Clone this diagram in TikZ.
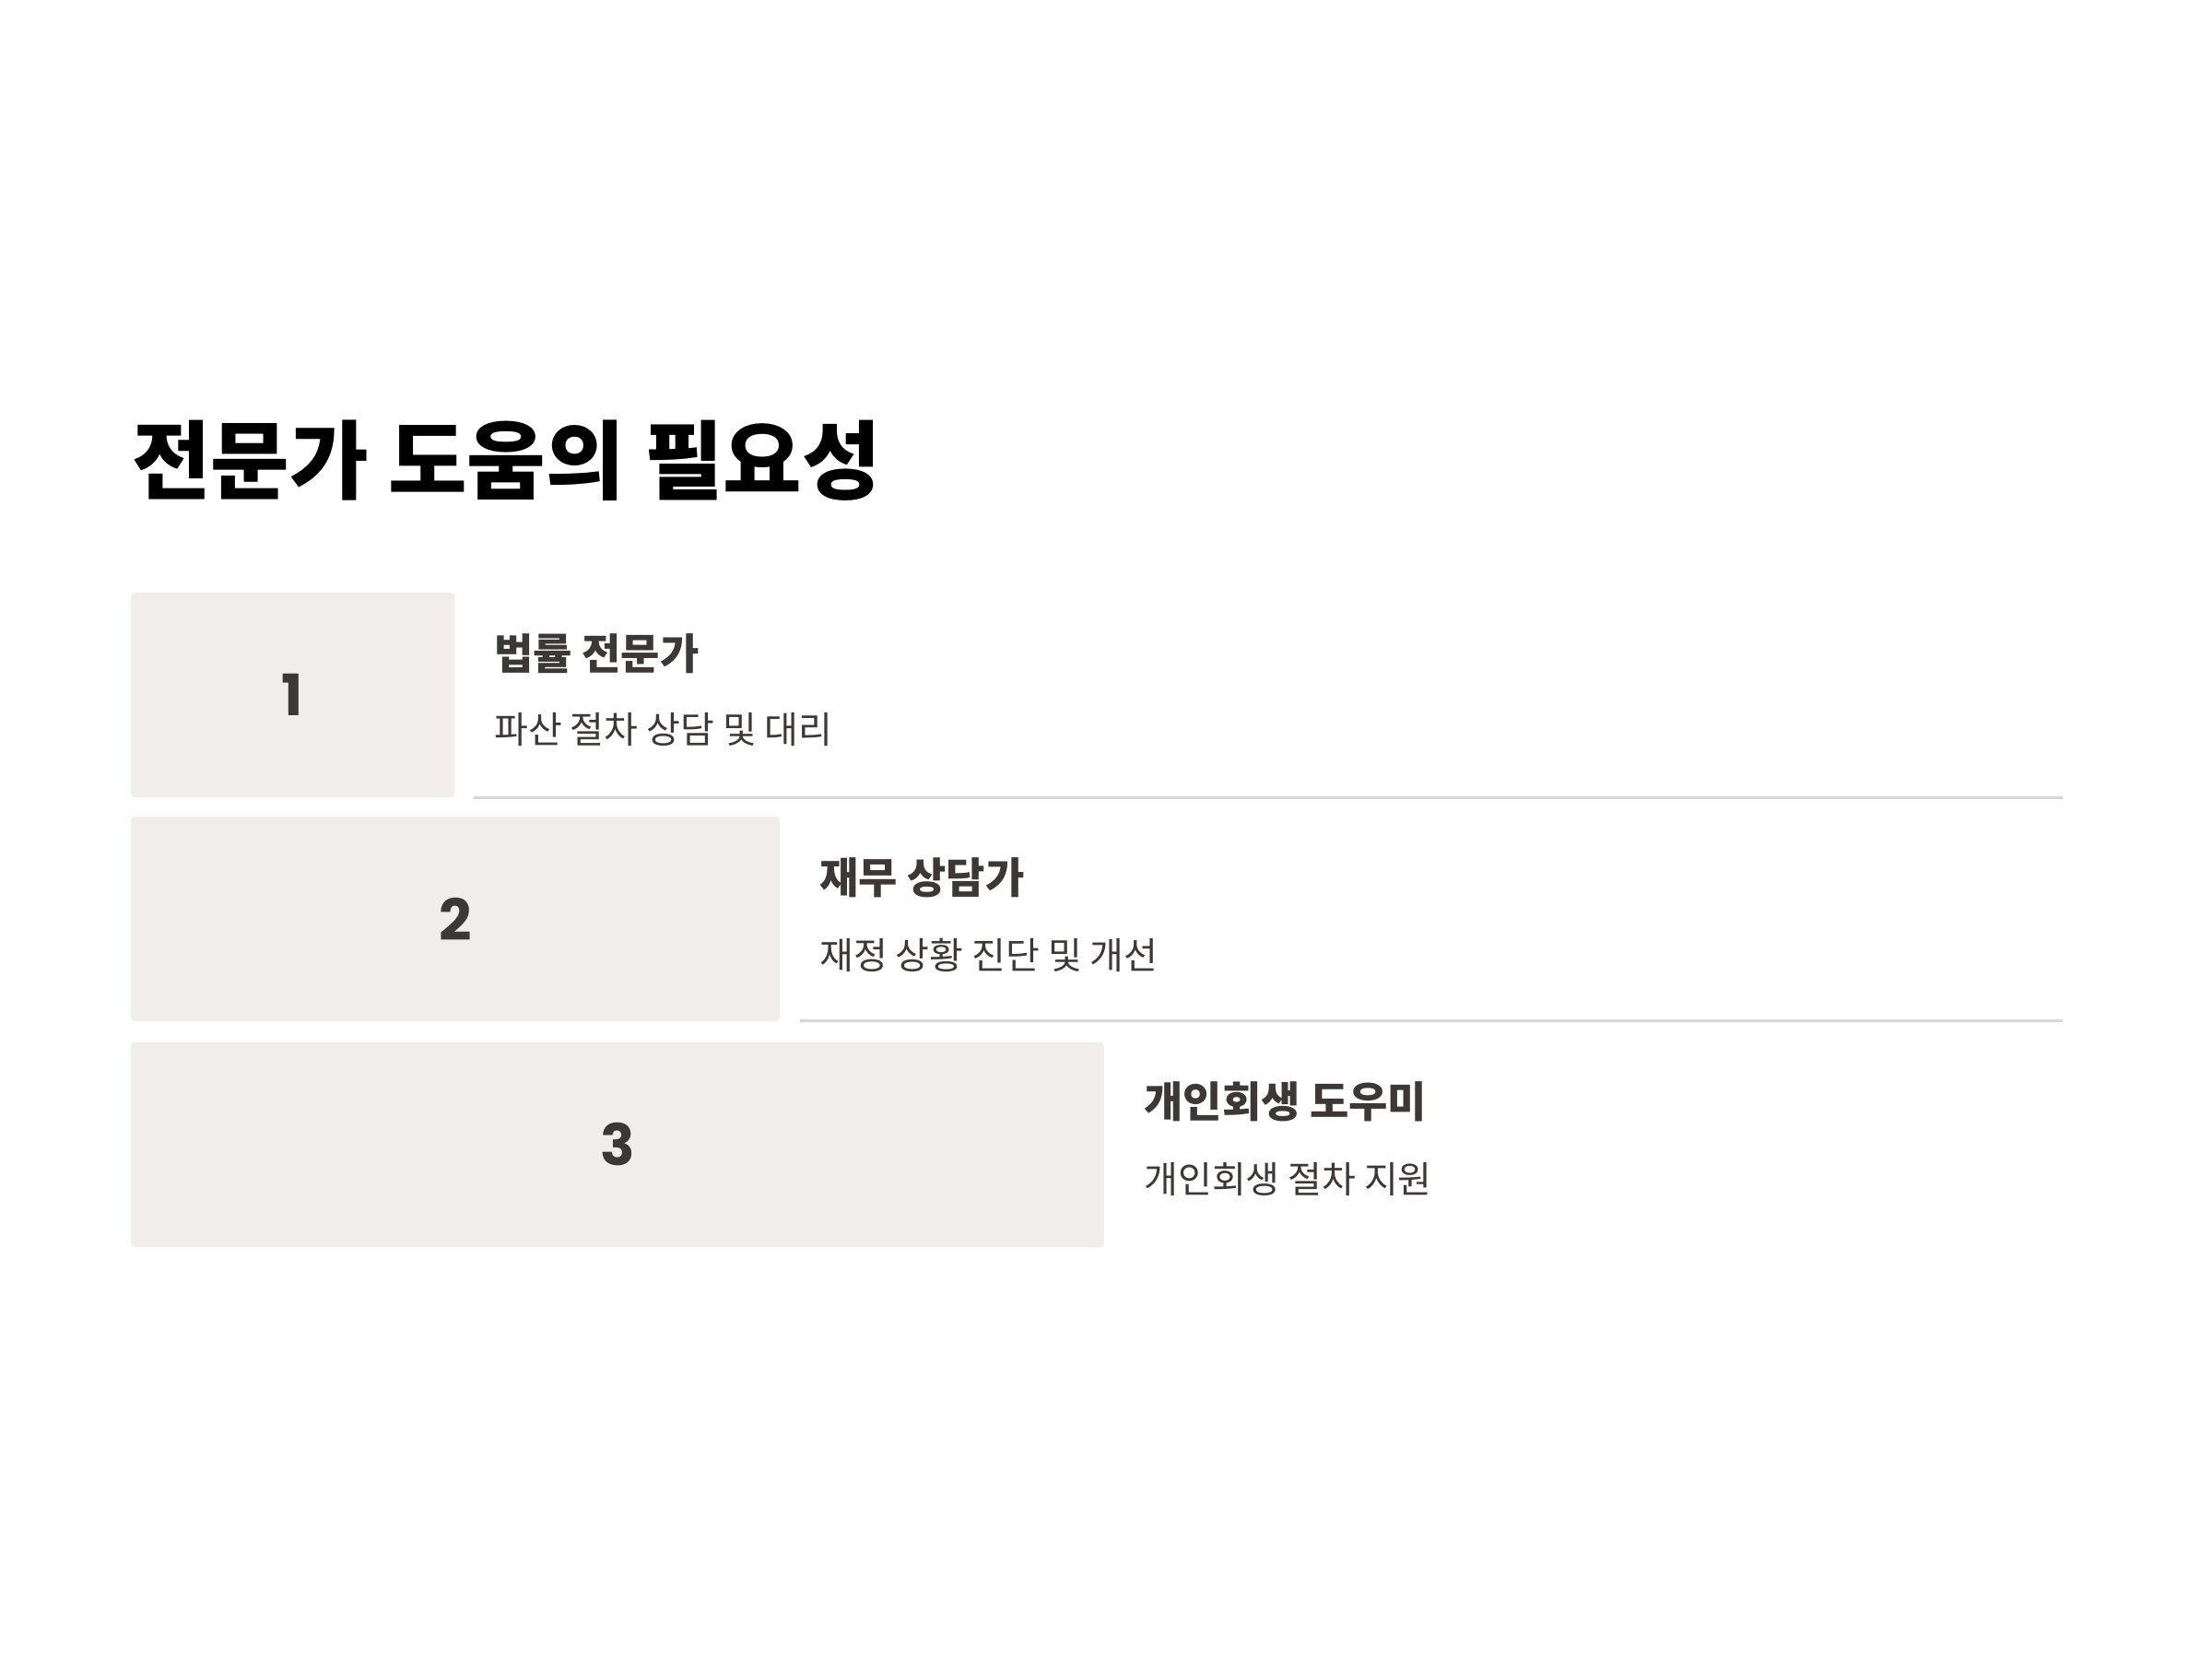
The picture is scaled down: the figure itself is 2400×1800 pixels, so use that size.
\documentclass[tikz,border=0pt]{standalone}
\usepackage{fontspec}
\newfontfamily\kr{Noto Sans CJK KR}
\newfontfamily\numfont{Poppins}
\definecolor{boxfill}{HTML}{F0EDEC}
\definecolor{txt}{HTML}{3D3838}
\definecolor{rule}{HTML}{D9D6D6}
\tikzset{
  stepbox/.style={fill=boxfill, draw=none, rounded corners=2pt},
  numlabel/.style={text=txt, font=\numfont\bfseries\fontsize{31}{31}\selectfont, inner sep=0pt},
  head/.style={anchor=west, text=txt, font=\kr\bfseries\fontsize{23}{23}\selectfont, inner sep=0pt},
  sub/.style={anchor=west, text=txt, font=\kr\fontsize{20}{20}\selectfont, inner sep=0pt},
  sep/.style={draw=rule, line width=1.5pt}
}
\begin{document}
\begin{tikzpicture}[x=0.5pt,y=-0.5pt]
\path[fill=white, use as bounding box] (0,0) rectangle (2400,1800);
\node[anchor=west, inner sep=0pt, font=\kr\bfseries\fontsize{46.5}{46.5}\selectfont, text=black] (title) at (143,500) {전문가 도움의 필요성};

% boxes
\path[stepbox] (142,643) rectangle (493,865);
\coordinate (b1) at (317.5,754);
\node[numlabel] (n1) at (b1) {1};
\path[stepbox] (142,886) rectangle (846,1108);
\coordinate (b2) at (494,997);
\node[numlabel] (n2) at (b2) {2};
\path[stepbox] (142,1131) rectangle (1198,1353);
\coordinate (b3) at (670,1242);
\node[numlabel] (n3) at (b3) {3};

% texts
\node[head] (h1) at (536,709) {법률 전문가};
\node[sub] (s1) at (536,792) {파산 절차 상담 및 대리};
\node[head] (h2) at (889,952) {재무 상담가};
\node[sub] (s2) at (889,1036) {재정 상황 진단 및 개선};
\node[head] (h3) at (1241,1195) {개인회생 도우미};
\node[sub] (s3) at (1241,1280) {개인회생 절차 지원};

% rules
\coordinate (l1a) at (514,865);
\coordinate (l1b) at (2238,865);
\coordinate (l2a) at (868,1107);
\coordinate (l2b) at (2238,1107);
\draw[sep] (l1a) -- (l1b);
\draw[sep] (l2a) -- (l2b);
\end{tikzpicture}
\end{document}
